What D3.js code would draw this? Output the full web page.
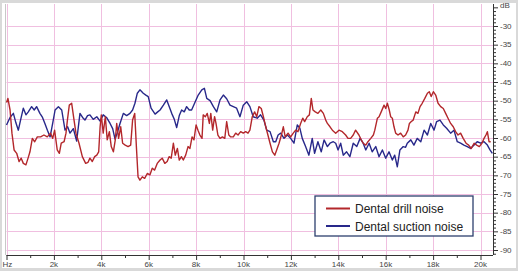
<!DOCTYPE html>
<html>
<head>
<meta charset="utf-8">
<script src="https://cdn.jsdelivr.net/npm/d3@7"></script>
<style>
  body { margin: 0; background: #fff; }
  svg { display: block; font-family: "Liberation Sans", Arial, sans-serif; }
</style>
</head>
<body>
<svg width="518" height="271"></svg>
<script>
// frequency in kHz, level in dB
var drillFreq = [0.00, 0.06, 0.15, 0.23, 0.32, 0.43, 0.53, 0.62, 0.71, 0.82, 0.91, 0.99, 1.09, 1.19, 1.30, 1.44, 1.58, 1.72, 1.86, 1.95,
  2.03, 2.14, 2.23, 2.31, 2.43, 2.51, 2.57, 2.65, 2.75, 2.85, 2.93, 3.06, 3.20, 3.34, 3.44, 3.52, 3.62, 3.72, 3.81, 3.89,
  3.95, 4.00, 4.08, 4.17, 4.25, 4.34, 4.42, 4.51, 4.59, 4.65, 4.73, 4.82, 4.90, 5.01, 5.13, 5.24, 5.32, 5.41, 5.48, 5.55,
  5.63, 5.73, 5.83, 5.94, 6.05, 6.15, 6.25, 6.36, 6.48, 6.57, 6.68, 6.78, 6.86, 6.95, 7.04, 7.12, 7.21, 7.29, 7.38, 7.46,
  7.56, 7.66, 7.74, 7.83, 7.91, 8.00, 8.08, 8.16, 8.25, 8.30, 8.39, 8.47, 8.56, 8.62, 8.70, 8.78, 8.84, 8.92, 9.01, 9.11,
  9.21, 9.29, 9.38, 9.46, 9.57, 9.67, 9.77, 9.88, 9.99, 10.09, 10.19, 10.27, 10.37, 10.47, 10.56, 10.65, 10.75, 10.84, 10.94, 11.03,
  11.12, 11.22, 11.32, 11.40, 11.50, 11.60, 11.68, 11.76, 11.88, 11.99, 12.10, 12.20, 12.30, 12.41, 12.50, 12.58, 12.69, 12.78, 12.86, 12.93,
  13.03, 13.14, 13.26, 13.37, 13.47, 13.54, 13.65, 13.75, 13.89, 14.03, 14.17, 14.31, 14.41, 14.52, 14.63, 14.73, 14.87, 14.97, 15.05, 15.16,
  15.25, 15.37, 15.48, 15.54, 15.65, 15.72, 15.81, 15.93, 16.00, 16.07, 16.15, 16.21, 16.28, 16.35, 16.42, 16.52, 16.63, 16.74, 16.84, 16.94,
  17.00, 17.08, 17.16, 17.27, 17.36, 17.45, 17.54, 17.65, 17.76, 17.84, 17.92, 18.01, 18.11, 18.21, 18.32, 18.43, 18.53, 18.63, 18.74, 18.85,
  18.95, 19.05, 19.16, 19.27, 19.39, 19.50, 19.61, 19.73, 19.84, 19.95, 20.06, 20.15, 20.23, 20.29, 20.36, 20.43];
var drillDb = [-50.5, -49.4, -52.5, -58.7, -63.2, -64.1, -66.3, -65.4, -66.8, -67.2, -65.4, -63.7, -60.1, -61.0, -59.7, -59.7, -59.2, -59.7, -58.7, -60.1,
  -57.9, -63.2, -64.1, -61.4, -61.0, -58.7, -55.2, -51.2, -50.7, -55.2, -58.7, -61.4, -65.0, -66.8, -66.5, -65.4, -66.3, -65.0, -64.6, -63.7,
  -57.0, -53.8, -58.7, -54.3, -60.5, -58.3, -62.3, -63.7, -60.5, -56.1, -60.1, -57.0, -61.4, -61.9, -62.3, -61.9, -55.2, -53.4, -62.3, -70.4,
  -71.3, -70.4, -70.8, -69.5, -69.9, -68.1, -68.6, -66.8, -65.9, -65.4, -66.8, -66.3, -65.0, -65.4, -61.4, -64.6, -62.8, -65.9, -65.0, -65.9,
  -64.6, -62.3, -62.8, -59.7, -60.5, -56.5, -57.9, -59.2, -60.1, -53.8, -54.3, -53.4, -56.1, -53.4, -57.9, -54.3, -56.1, -59.2, -60.1, -59.7,
  -60.1, -55.6, -59.2, -59.7, -59.7, -58.7, -59.2, -58.3, -58.7, -58.3, -58.7, -57.9, -54.3, -53.0, -54.3, -51.6, -52.1, -54.3, -57.0, -59.2,
  -61.4, -63.7, -64.6, -63.2, -61.4, -59.2, -57.0, -59.7, -58.7, -59.7, -58.7, -57.9, -58.3, -56.1, -54.7, -55.6, -54.3, -53.8, -49.4, -52.5,
  -53.0, -53.4, -52.5, -53.4, -55.2, -56.1, -57.0, -57.9, -58.7, -57.9, -58.3, -59.2, -60.1, -60.1, -59.2, -57.9, -59.2, -60.5, -61.4, -61.9,
  -61.0, -60.1, -59.2, -57.9, -54.7, -54.3, -53.0, -51.2, -52.1, -50.7, -52.5, -54.3, -54.7, -57.0, -58.7, -59.2, -58.7, -59.7, -59.2, -57.9,
  -56.1, -55.6, -55.2, -53.0, -53.4, -51.6, -50.7, -49.4, -48.0, -47.6, -48.9, -47.6, -48.5, -50.7, -51.6, -52.1, -53.4, -54.7, -56.1, -57.0,
  -58.3, -59.2, -58.7, -60.1, -61.4, -61.9, -62.8, -61.4, -61.9, -62.3, -61.4, -60.1, -59.2, -58.3, -61.0, -61.0];

var suctionFreq = [0.00, 0.03, 0.15, 0.29, 0.40, 0.50, 0.60, 0.71, 0.82, 0.92, 1.06, 1.17, 1.27, 1.41, 1.52, 1.62, 1.73, 1.84, 1.95, 2.05,
  2.19, 2.33, 2.47, 2.58, 2.68, 2.82, 2.96, 3.10, 3.21, 3.31, 3.42, 3.52, 3.66, 3.81, 3.95, 4.08, 4.22, 4.37, 4.48, 4.58,
  4.68, 4.79, 4.93, 5.07, 5.21, 5.32, 5.42, 5.52, 5.63, 5.77, 5.88, 5.98, 6.10, 6.27, 6.38, 6.48, 6.62, 6.76, 6.86, 6.97,
  7.08, 7.18, 7.29, 7.39, 7.50, 7.60, 7.71, 7.81, 7.95, 8.09, 8.24, 8.35, 8.45, 8.59, 8.73, 8.87, 9.01, 9.15, 9.29, 9.43,
  9.57, 9.71, 9.85, 9.99, 10.14, 10.27, 10.41, 10.58, 10.72, 10.86, 10.98, 11.12, 11.26, 11.36, 11.46, 11.57, 11.71, 11.85, 11.99, 12.13,
  12.27, 12.38, 12.48, 12.62, 12.76, 12.90, 13.00, 13.14, 13.28, 13.40, 13.54, 13.65, 13.79, 13.89, 13.99, 14.10, 14.21, 14.35, 14.49, 14.63,
  14.78, 14.92, 15.05, 15.16, 15.30, 15.43, 15.58, 15.72, 15.86, 16.00, 16.14, 16.28, 16.38, 16.49, 16.60, 16.74, 16.84, 16.91, 17.06, 17.19,
  17.33, 17.48, 17.62, 17.76, 17.90, 18.04, 18.15, 18.29, 18.43, 18.57, 18.74, 18.88, 19.02, 19.16, 19.30, 19.44, 19.58, 19.73, 19.86, 20.01,
  20.15, 20.29, 20.40, 20.50];
var suctionDb = [-56.5, -56.1, -54.5, -53.4, -56.0, -57.9, -55.0, -52.0, -53.8, -53.0, -51.6, -52.5, -51.6, -53.4, -54.5, -56.1, -58.0, -59.7, -56.0, -52.5,
  -51.6, -52.5, -57.9, -57.0, -58.7, -57.5, -60.8, -53.4, -54.5, -55.2, -54.0, -53.8, -55.0, -54.3, -55.5, -53.8, -54.5, -56.1, -57.5, -60.3,
  -58.5, -56.1, -53.4, -54.0, -53.4, -52.5, -50.7, -48.0, -47.1, -48.0, -48.5, -48.9, -52.0, -53.6, -53.0, -52.5, -51.2, -49.8, -51.5, -53.4,
  -55.0, -57.2, -54.0, -52.5, -53.0, -51.6, -52.5, -52.5, -50.5, -48.5, -47.1, -46.7, -49.4, -50.0, -51.6, -53.0, -49.8, -48.5, -49.5, -51.2,
  -51.6, -52.0, -54.3, -51.2, -50.3, -51.6, -54.3, -54.7, -53.8, -55.2, -57.9, -58.3, -61.0, -61.0, -59.2, -58.7, -60.1, -59.2, -60.1, -61.4,
  -56.5, -57.4, -60.1, -62.3, -64.6, -60.1, -64.1, -61.0, -63.7, -60.5, -62.3, -61.4, -61.0, -61.4, -63.2, -61.4, -64.6, -63.7, -65.0, -61.4,
  -62.3, -60.1, -61.4, -63.2, -61.4, -63.7, -62.3, -65.0, -63.2, -65.4, -63.7, -65.9, -64.6, -67.7, -63.2, -62.3, -62.5, -61.4, -60.5, -61.9,
  -60.1, -61.0, -57.9, -59.2, -56.1, -57.9, -55.6, -55.2, -56.5, -57.4, -58.7, -57.9, -61.0, -61.4, -61.9, -62.3, -62.8, -61.9, -61.0, -61.4,
  -61.0, -61.9, -63.2, -64.1];

var xTicks = [0, 2, 4, 6, 8, 10, 12, 14, 16, 18, 20];
var xLabels = ["Hz", "2k", "4k", "6k", "8k", "10k", "12k", "14k", "16k", "18k", "20k"];
var yTicks = [-30, -35, -40, -45, -50, -55, -60, -65, -70, -75, -80, -85, -90];
var seriesNames = ["Dental drill noise", "Dental suction noise"];
var seriesColors = ["#b3272b", "#28288a"];

var svg = d3.select("svg"),
    width = +svg.attr("width"),
    height = +svg.attr("height"),
    plot = { left: 6.5, right: 493, top: 4, bottom: 255 };

// scales: 0..20 kHz and -90..-30 dB
var x = d3.scaleLinear().domain([0, 20]).range([6.5, 480.5]),
    y = d3.scaleLinear().domain([-90, -30]).range([250, 26]);

// grey outer frame and white card
svg.append("rect").attr("width", width).attr("height", height).attr("fill", "#d9d9d9");
svg.append("rect").attr("x", 2).attr("y", 3).attr("width", width - 4).attr("height", height - 6).attr("fill", "#fff");

// grid
var grid = svg.append("g").attr("stroke", "#f0bfe0").attr("stroke-width", 1);
grid.selectAll(".v").data(xTicks).enter().append("line")
    .attr("x1", function(d) { return Math.round(x(d)) + 0.5; })
    .attr("x2", function(d) { return Math.round(x(d)) + 0.5; })
    .attr("y1", plot.top).attr("y2", plot.bottom);
grid.selectAll(".h").data(yTicks).enter().append("line")
    .attr("x1", plot.left).attr("x2", plot.right)
    .attr("y1", function(d) { return Math.round(y(d)) + 0.5; })
    .attr("y2", function(d) { return Math.round(y(d)) + 0.5; });

// left edge of the plot
svg.append("line").attr("x1", 5.5).attr("x2", 5.5).attr("y1", plot.top).attr("y2", plot.bottom)
    .attr("stroke", "#c8c8c8");

// x axis at bottom, ticks every 1 kHz
var xAxis = svg.append("g")
    .attr("transform", "translate(0," + plot.bottom + ")")
    .call(d3.axisBottom(x).tickValues(d3.range(0, 21, 1)).tickSize(3).tickFormat(""));
xAxis.select(".domain").attr("d", "M" + plot.left + ",0.5H" + plot.right).attr("stroke", "#333");
xAxis.selectAll(".tick line").attr("stroke", "#333")
    .attr("y2", function(d) { return d % 2 === 0 ? 5 : 3; });
xAxis.selectAll(".lbl").data(xTicks).enter().append("text")
    .attr("x", function(d) { return x(d); })
    .attr("y", 12)
    .attr("text-anchor", function(d) { return d === 0 ? "start" : "middle"; })
    .attr("dx", function(d) { return d === 0 ? -4 : 0; })
    .attr("fill", "#444")
    .style("font-size", "8px")
    .text(function(d, i) { return xLabels[i]; });

// y axis on the right, ticks every 1 dB
var yAxis = svg.append("g")
    .attr("transform", "translate(" + plot.right + ",0)")
    .call(d3.axisRight(y).tickValues(d3.range(-91, -24, 1)).tickSize(3).tickFormat(""));
yAxis.select(".domain").attr("d", "M0.5," + plot.top + "V" + plot.bottom).attr("stroke", "#333");
yAxis.selectAll(".tick line").attr("stroke", "#333")
    .attr("x2", function(d) { return d % 5 === 0 ? 5 : 3; });
yAxis.selectAll(".lbl").data(yTicks).enter().append("text")
    .attr("x", 7).attr("y", function(d) { return y(d); })
    .attr("dy", "0.35em")
    .attr("fill", "#444")
    .style("font-size", "8px")
    .text(function(d) { return d; });
yAxis.append("text").attr("x", 7).attr("y", 8).attr("fill", "#444")
    .style("font-size", "8px").text("dB");

// lines
var line = d3.line()
    .x(function(d) { return x(d[0]); })
    .y(function(d) { return y(d[1]); });

svg.append("path")
    .datum(suctionFreq.map(function(f, i) { return [f, suctionDb[i]]; }))
    .attr("fill", "none").attr("stroke", seriesColors[1]).attr("stroke-width", 1.4)
    .attr("stroke-linejoin", "round").attr("d", line);

svg.append("path")
    .datum(drillFreq.map(function(f, i) { return [f, drillDb[i]]; }))
    .attr("fill", "none").attr("stroke", seriesColors[0]).attr("stroke-width", 1.4)
    .attr("stroke-linejoin", "round").attr("d", line);

// legend
var legend = svg.append("g").attr("transform", "translate(315,196)");
legend.append("rect").attr("width", 158).attr("height", 40)
    .attr("fill", "#fff").attr("stroke", "#2d3f6e").attr("stroke-width", 1.3);
seriesNames.forEach(function(name, i) {
  legend.append("line")
      .attr("x1", 11).attr("x2", 35)
      .attr("y1", 12.5 + i * 17.5).attr("y2", 12.5 + i * 17.5)
      .attr("stroke", seriesColors[i]).attr("stroke-width", 2);
  legend.append("text")
      .attr("x", 40).attr("y", 17 + i * 17.5)
      .attr("fill", "#222")
      .style("font-size", "12px")
      .text(name);
});
</script>
</body>
</html>
